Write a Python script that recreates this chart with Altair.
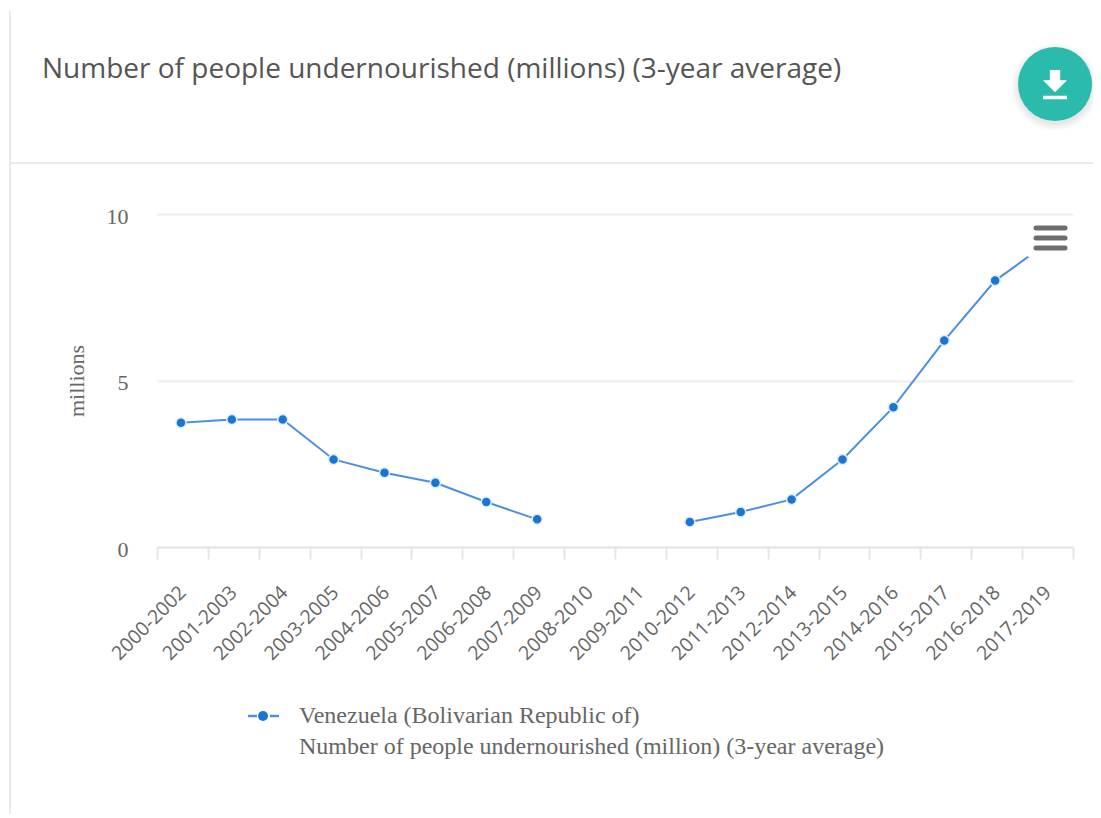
import altair as alt

periods = ["2000-2002","2001-2003","2002-2004","2003-2005","2004-2006","2005-2007",
           "2006-2008","2007-2009","2008-2010","2009-2011","2010-2012","2011-2013",
           "2012-2014","2013-2015","2014-2016","2015-2017","2016-2018","2017-2019"]
undernourished = [3.73,3.83,3.83,2.63,2.23,1.93,1.35,0.83,None,None,0.75,1.05,1.43,2.63,4.2,6.2,8.0,9.1]

TITLE = "Number of people undernourished (millions) (3-year average)"
LEGEND_1 = "Venezuela (Bolivarian Republic of)"
LEGEND_2 = "Number of people undernourished (million) (3-year average)"

PL, PT = 157, 214          # page position of the plot origin
W, H = 916, 333
SERIF = "Liberation Serif"
SANS = "Open Sans"
ONE = alt.Data(values=[{"a": 1}])

def X(px): return alt.value(px - PL)
def Y(py): return alt.value(py - PT)

def hline(x1, x2, y, color, width, cap="butt"):
    return alt.Chart(ONE).mark_rule(color=color, strokeWidth=width, strokeCap=cap, clip=False).encode(
        x=X(x1), x2=X(x2), y=Y(y))

def label(txt, x, y, size, font, color, **kw):
    return alt.Chart(ONE).mark_text(text=txt, fontSize=size, font=font, color=color,
                                    align="left", baseline="middle", clip=False, **kw).encode(x=X(x), y=Y(y))

def disc(x, y, diameter, color, opacity=1.0):
    return alt.Chart(ONE).mark_point(shape="circle", filled=True, color=color, opacity=opacity,
                                     size=diameter ** 2, clip=False).encode(x=X(x), y=Y(y))

table = alt.Data(values=[{"period": p, "value": v} for p, v in zip(periods, undernourished)])

x_enc = alt.X("period:N", sort=periods, title=None,
              scale=alt.Scale(paddingInner=0, paddingOuter=0),
              axis=alt.Axis(labelAngle=-45, labelAlign="right", labelBaseline="middle",
                            labelFont=SANS, labelFontSize=19.5, labelColor="#666666", labelPadding=30,
                            labelOverlap=False, tickBand="extent", tickSize=12, tickWidth=2,
                            tickColor="#e6e6e6", domainColor="#e6e6e6", domainWidth=2, grid=False))
y_enc = alt.Y("value:Q", title="millions",
              scale=alt.Scale(domain=[0, 10], nice=False),
              axis=alt.Axis(values=[0, 5, 10], grid=True, gridColor="#eeeeee", gridWidth=2,
                            domain=False, ticks=False, labelFont=SERIF, labelFontSize=22,
                            labelColor="#666666", labelPadding=29, labelOffset=2, titleFont=SERIF,
                            titleFontSize=22, titleFontWeight="normal", titleColor="#666666",
                            titlePadding=18))

line = alt.Chart(table).mark_line(color="#4a90e2", strokeWidth=2, clip=False, xOffset=-1.5).encode(x=x_enc, y=y_enc)
points = alt.Chart(table).mark_point(shape="circle", filled=True, fill="#1976d2", stroke="#e3eefa",
                                     strokeWidth=1.5, opacity=1, size=100, clip=False, xOffset=-1.5).encode(
    x=alt.X("period:N", sort=periods), y=alt.Y("value:Q"))

# menu button background hides the last point, as in the page
menu_bg = alt.Chart(ONE).mark_rect(color="white", clip=False).encode(
    x=X(1028), x2=X(1072), y=Y(220), y2=Y(257))
menu = [hline(1036, 1065, yy, "#6e6e6e", 5, "round") for yy in (228, 238, 248)]

# chrome
frame_v = alt.Chart(ONE).mark_rule(color="#e3e3e3", strokeWidth=1.5, clip=False).encode(
    x=X(10), y=Y(11), y2=Y(814))
frame_h = hline(10, 1093, 163, "#e3e3e3", 1.5)

shadow = [disc(1055, 87, 74 + 2 * i, "#000000", 0.012) for i in range(8)]
button = disc(1055, 84, 74, "#2bbbad")
ICON = ("M.583 -.25H.25V-.75H-.25V-.25H-.583L0 .333ZM-.583 .5V.667H.583V.5Z")
icon = alt.Chart(ONE).mark_point(shape=ICON, filled=True, color="white", opacity=1,
                                 size=(2 * 20.6) ** 2, clip=False).encode(x=X(1055), y=Y(85.5))

title = label(TITLE, 42, 70, 28, SANS, "#555555")

# legend
leg_seg = [hline(248, 257, 716, "#4a90e2", 2.5), hline(270, 279, 716, "#4a90e2", 2.5)]
leg_dot = disc(263, 716, 10, "#1976d2")
leg_1 = label(LEGEND_1, 299, 716, 24, SERIF, "#666666")
leg_2 = label(LEGEND_2, 299, 747, 24, SERIF, "#666666")

chart = alt.layer(
    frame_v, frame_h, line, points, menu_bg, *menu, *shadow, button, icon, title,
    *leg_seg, leg_dot, leg_1, leg_2
).properties(
    width=W, height=H,
    autosize=alt.AutoSizeParams(type="none"),
    padding={"left": PL - 8, "top": PT - 8, "right": 20, "bottom": 267},
    background="#ffffff",
).configure_view(stroke=None)

chart.save("out.html", embed_options={"renderer": "svg", "actions": False})
